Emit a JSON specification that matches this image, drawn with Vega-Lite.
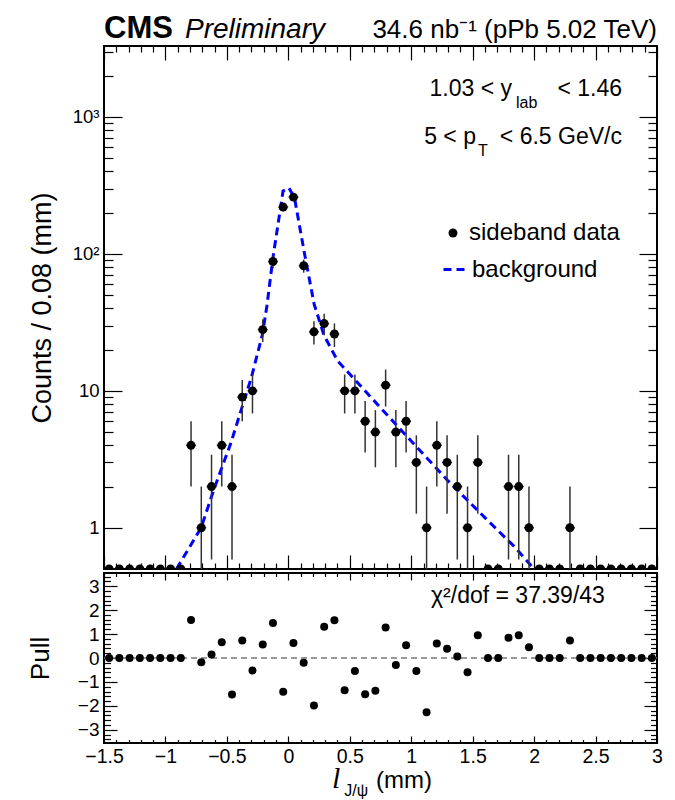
{
  "$schema": "https://vega.github.io/schema/vega-lite/v6.json",
  "autosize": {"type": "pad"},
  "padding": {"left": 26, "top": 11, "right": 5, "bottom": 2},
  "background": "white",
  "spacing": 0,
  "datasets": {
    "bins": [
      {"x": -1.4583, "n": 0, "pull": 0},
      {"x": -1.375, "n": 0, "pull": 0},
      {"x": -1.2917, "n": 0, "pull": 0},
      {"x": -1.2083, "n": 0, "pull": 0},
      {"x": -1.125, "n": 0, "pull": 0},
      {"x": -1.0417, "n": 0, "pull": 0},
      {"x": -0.9583, "n": 0, "pull": 0},
      {"x": -0.875, "n": 0, "pull": 0},
      {"x": -0.7917, "n": 4, "lo": 2, "hi": 6, "pull": 1.59},
      {"x": -0.7083, "n": 1, "lo": 0, "hi": 2, "pull": -0.18},
      {"x": -0.625, "n": 2, "lo": 0.586, "hi": 3.414, "pull": 0.15},
      {"x": -0.5417, "n": 4, "lo": 2, "hi": 6, "pull": 0.66},
      {"x": -0.4583, "n": 2, "lo": 0.586, "hi": 3.414, "pull": -1.52},
      {"x": -0.375, "n": 9, "lo": 6, "hi": 12, "pull": 0.73},
      {"x": -0.2917, "n": 10, "lo": 6.838, "hi": 13.162, "pull": -0.52},
      {"x": -0.2083, "n": 28, "lo": 22.708, "hi": 33.292, "pull": 0.56},
      {"x": -0.125, "n": 88, "lo": 78.619, "hi": 97.381, "pull": 1.46},
      {"x": -0.0417, "n": 220, "lo": 205.168, "hi": 234.832, "pull": -1.41},
      {"x": 0.0417, "n": 260, "lo": 243.875, "hi": 276.125, "pull": 0.63},
      {"x": 0.125, "n": 82, "lo": 72.945, "hi": 91.055, "pull": -0.2},
      {"x": 0.2083, "n": 27, "lo": 21.804, "hi": 32.196, "pull": -1.98},
      {"x": 0.2917, "n": 31, "lo": 25.432, "hi": 36.568, "pull": 1.31},
      {"x": 0.375, "n": 26, "lo": 20.901, "hi": 31.099, "pull": 1.58},
      {"x": 0.4583, "n": 10, "lo": 6.838, "hi": 13.162, "pull": -1.35},
      {"x": 0.5417, "n": 10, "lo": 6.838, "hi": 13.162, "pull": -0.54},
      {"x": 0.625, "n": 6, "lo": 3.551, "hi": 8.449, "pull": -1.51},
      {"x": 0.7083, "n": 5, "lo": 2.764, "hi": 7.236, "pull": -1.37},
      {"x": 0.7917, "n": 11, "lo": 7.683, "hi": 14.317, "pull": 1.27},
      {"x": 0.875, "n": 5, "lo": 2.764, "hi": 7.236, "pull": -0.29},
      {"x": 0.9583, "n": 6, "lo": 3.551, "hi": 8.449, "pull": 0.53},
      {"x": 1.0417, "n": 3, "lo": 1.268, "hi": 4.732, "pull": -0.54},
      {"x": 1.125, "n": 1, "lo": 0, "hi": 2, "pull": -2.27},
      {"x": 1.2083, "n": 4, "lo": 2, "hi": 6, "pull": 0.61},
      {"x": 1.2917, "n": 3, "lo": 1.268, "hi": 4.732, "pull": 0.39},
      {"x": 1.375, "n": 2, "lo": 0.586, "hi": 3.414, "pull": 0.06},
      {"x": 1.4583, "n": 1, "lo": 0, "hi": 2, "pull": -0.6},
      {"x": 1.5417, "n": 3, "lo": 1.268, "hi": 4.732, "pull": 0.95},
      {"x": 1.625, "n": 0, "pull": 0},
      {"x": 1.7083, "n": 0, "pull": 0},
      {"x": 1.7917, "n": 2, "lo": 0.586, "hi": 3.414, "pull": 0.85},
      {"x": 1.875, "n": 2, "lo": 0.586, "hi": 3.414, "pull": 0.95},
      {"x": 1.9583, "n": 1, "lo": 0, "hi": 2, "pull": 0.45},
      {"x": 2.0417, "n": 0, "pull": 0},
      {"x": 2.125, "n": 0, "pull": 0},
      {"x": 2.2083, "n": 0, "pull": 0},
      {"x": 2.2917, "n": 1, "lo": 0, "hi": 2, "pull": 0.73},
      {"x": 2.375, "n": 0, "pull": 0},
      {"x": 2.4583, "n": 0, "pull": 0},
      {"x": 2.5417, "n": 0, "pull": 0},
      {"x": 2.625, "n": 0, "pull": 0},
      {"x": 2.7083, "n": 0, "pull": 0},
      {"x": 2.7917, "n": 0, "pull": 0},
      {"x": 2.875, "n": 0, "pull": 0},
      {"x": 2.9583, "n": 0, "pull": 0}
    ],
    "curve": [
      {"x": -0.91, "y": 0.5},
      {"x": -0.71, "y": 1.0},
      {"x": -0.6, "y": 1.97},
      {"x": -0.47, "y": 4.1},
      {"x": -0.3, "y": 12.6},
      {"x": -0.21, "y": 26},
      {"x": -0.174, "y": 42},
      {"x": -0.125, "y": 94},
      {"x": -0.043, "y": 288},
      {"x": 0.005, "y": 304},
      {"x": 0.05, "y": 257},
      {"x": 0.133, "y": 99},
      {"x": 0.21, "y": 43},
      {"x": 0.29, "y": 25.5},
      {"x": 0.4, "y": 16.6},
      {"x": 0.57, "y": 11.3},
      {"x": 0.77, "y": 7.2},
      {"x": 1.0, "y": 4.3},
      {"x": 1.3, "y": 2.2},
      {"x": 1.57, "y": 1.26},
      {"x": 1.845, "y": 0.72},
      {"x": 2.0, "y": 0.5}
    ]
  },
  "config": {
    "font": "Liberation Sans",
    "view": {"stroke": "black", "strokeWidth": 2},
    "axis": {
      "domain": false, "grid": false, "tickColor": "black", "tickWidth": 1.2, "labelFlush": false,
      "labelColor": "black", "labelFont": "Liberation Sans", "titleFont": "Liberation Sans",
      "titleColor": "black", "titleFontWeight": "normal"
    },
    "legend": {"padding": 0, "labelFont": "Liberation Sans", "labelColor": "black", "labelFontSize": 24}
  },
  "resolve": {"scale": {"y": "independent", "color": "independent", "strokeDash": "independent"}},
  "vconcat": [
    {
      "width": 553,
      "height": 523,
      "resolve": {"scale": {"y": "independent"}, "axis": {"x": "independent", "y": "independent"}},
      "layer": [
        {
          "data": {"name": "curve"},
          "mark": {"type": "line", "color": "#0000ff", "strokeWidth": 3, "clip": true},
          "encoding": {
            "x": {"field": "x", "type": "quantitative",
              "scale": {"domain": [-1.5, 3], "nice": false, "zero": false},
              "axis": {"orient": "bottom", "values": [-1.5, -1, -0.5, 0, 0.5, 1, 1.5, 2, 2.5, 3], "tickSize": -14, "labels": false, "title": null}},
            "y": {"field": "y", "type": "quantitative",
              "scale": {"type": "log", "domain": [0.5, 3300], "nice": false},
              "axis": {"orient": "left", "values": [1, 10, 100, 1000], "tickSize": -18, "labelPadding": 23, "labelFontSize": 18.5,
                "labelExpr": "datum.value >= 1000 ? '10³' : datum.value >= 100 ? '10²' : datum.value >= 10 ? '10' : '1'",
                "title": "Counts / 0.08 (mm)", "titleFontSize": 27, "titlePadding": 16, "titleAnchor": "middle"}},
            "strokeDash": {"datum": "background", "type": "nominal",
              "scale": {"domain": ["background"], "range": [[8, 5]]},
              "legend": {"title": null, "orient": "none", "legendX": 338, "legendY": 210, "symbolType": "stroke",
                "symbolSize": 576, "symbolStrokeWidth": 3, "symbolStrokeColor": "#0000ff", "labelOffset": 3}}
          }
        },
        {
          "data": {"name": "bins"},
          "transform": [{"filter": "datum.n > 0"}],
          "mark": {"type": "rule", "color": "#333333", "strokeWidth": 1.5, "clip": true},
          "encoding": {
            "x": {"field": "x", "type": "quantitative",
              "axis": {"orient": "bottom", "values": [-1.4, -1.3, -1.2, -1.1, -0.9, -0.8, -0.7, -0.6, -0.4, -0.3, -0.2, -0.1, 0.1, 0.2, 0.3, 0.4, 0.6, 0.7, 0.8, 0.9, 1.1, 1.2, 1.3, 1.4, 1.6, 1.7, 1.8, 1.9, 2.1, 2.2, 2.3, 2.4, 2.6, 2.7, 2.8, 2.9], "tickSize": -6, "labels": false, "title": null}},
            "y": {"field": "lo", "type": "quantitative",
              "scale": {"type": "log", "domain": [0.5, 3300], "nice": false, "clamp": true},
              "axis": {"orient": "left", "values": [2, 3, 4, 5, 6, 7, 8, 9, 20, 30, 40, 50, 60, 70, 80, 90, 200, 300, 400, 500, 600, 700, 800, 900, 2000, 3000], "tickSize": -9, "labels": false, "title": null}},
            "y2": {"field": "hi"}
          }
        },
        {
          "data": {"name": "bins"},
          "mark": {"type": "tick", "orient": "horizontal", "color": "black", "size": 10, "thickness": 1.5, "clip": true},
          "encoding": {
            "x": {"field": "x", "type": "quantitative",
              "axis": {"orient": "top", "values": [-1.5, -1, -0.5, 0, 0.5, 1, 1.5, 2, 2.5, 3], "tickSize": -14, "labels": false, "title": null}},
            "y": {"field": "n", "type": "quantitative",
              "scale": {"type": "log", "domain": [0.5, 3300], "nice": false, "clamp": true},
              "axis": {"orient": "right", "values": [1, 10, 100, 1000], "tickSize": -18, "labels": false, "title": null}}
          }
        },
        {
          "data": {"name": "bins"},
          "mark": {"type": "point", "filled": true, "size": 80, "opacity": 1, "clip": true},
          "encoding": {
            "x": {"field": "x", "type": "quantitative",
              "axis": {"orient": "top", "values": [-1.4, -1.3, -1.2, -1.1, -0.9, -0.8, -0.7, -0.6, -0.4, -0.3, -0.2, -0.1, 0.1, 0.2, 0.3, 0.4, 0.6, 0.7, 0.8, 0.9, 1.1, 1.2, 1.3, 1.4, 1.6, 1.7, 1.8, 1.9, 2.1, 2.2, 2.3, 2.4, 2.6, 2.7, 2.8, 2.9], "tickSize": -6, "labels": false, "title": null}},
            "y": {"field": "n", "type": "quantitative",
              "scale": {"type": "log", "domain": [0.5, 3300], "nice": false, "clamp": true},
              "axis": {"orient": "right", "values": [2, 3, 4, 5, 6, 7, 8, 9, 20, 30, 40, 50, 60, 70, 80, 90, 200, 300, 400, 500, 600, 700, 800, 900, 2000, 3000], "tickSize": -9, "labels": false, "title": null}},
            "color": {"datum": "sideband data", "type": "nominal",
              "scale": {"domain": ["sideband data"], "range": ["black"]},
              "legend": {"title": null, "orient": "none", "legendX": 337, "legendY": 175, "symbolType": "circle", "symbolSize": 80, "labelOffset": 4}}
          }
        },
        {
          "data": {"values": [{}]},
          "mark": {"type": "text", "text": "CMS", "align": "left", "baseline": "alphabetic", "fontSize": 31, "fontWeight": "bold", "color": "black"},
          "encoding": {"x": {"datum": -1.5, "type": "quantitative", "axis": null}, "y": {"datum": 3790, "type": "quantitative", "scale": {"type": "log", "domain": [0.5, 3300], "nice": false}, "axis": null}}
        },
        {
          "data": {"values": [{}]},
          "mark": {"type": "text", "text": "Preliminary", "align": "left", "baseline": "alphabetic", "fontSize": 28, "fontStyle": "italic", "color": "black"},
          "encoding": {"x": {"datum": -0.841, "type": "quantitative", "axis": null}, "y": {"datum": 3790, "type": "quantitative", "scale": {"type": "log", "domain": [0.5, 3300], "nice": false}, "axis": null}}
        },
        {
          "data": {"values": [{}]},
          "mark": {"type": "text", "text": "34.6 nb⁻¹ (pPb 5.02 TeV)", "align": "right", "baseline": "alphabetic", "fontSize": 26, "color": "black"},
          "encoding": {"x": {"datum": 3.0, "type": "quantitative", "axis": null}, "y": {"datum": 3790, "type": "quantitative", "scale": {"type": "log", "domain": [0.5, 3300], "nice": false}, "axis": null}}
        },
        {
          "data": {"values": [{}]},
          "mark": {"type": "text", "text": "1.03 < y", "align": "right", "baseline": "alphabetic", "fontSize": 23, "color": "black"},
          "encoding": {"x": {"datum": 1.82, "type": "quantitative", "axis": null}, "y": {"datum": 1423, "type": "quantitative", "scale": {"type": "log", "domain": [0.5, 3300], "nice": false}, "axis": null}}
        },
        {
          "data": {"values": [{}]},
          "mark": {"type": "text", "text": "lab", "align": "left", "baseline": "alphabetic", "fontSize": 16, "color": "black"},
          "encoding": {"x": {"datum": 1.852, "type": "quantitative", "axis": null}, "y": {"datum": 1169, "type": "quantitative", "scale": {"type": "log", "domain": [0.5, 3300], "nice": false}, "axis": null}}
        },
        {
          "data": {"values": [{}]},
          "mark": {"type": "text", "text": "< 1.46", "align": "right", "baseline": "alphabetic", "fontSize": 23, "color": "black"},
          "encoding": {"x": {"datum": 2.715, "type": "quantitative", "axis": null}, "y": {"datum": 1423, "type": "quantitative", "scale": {"type": "log", "domain": [0.5, 3300], "nice": false}, "axis": null}}
        },
        {
          "data": {"values": [{}]},
          "mark": {"type": "text", "text": "5 < p", "align": "right", "baseline": "alphabetic", "fontSize": 23, "color": "black"},
          "encoding": {"x": {"datum": 1.527, "type": "quantitative", "axis": null}, "y": {"datum": 638, "type": "quantitative", "scale": {"type": "log", "domain": [0.5, 3300], "nice": false}, "axis": null}}
        },
        {
          "data": {"values": [{}]},
          "mark": {"type": "text", "text": "T", "align": "left", "baseline": "alphabetic", "fontSize": 16, "color": "black"},
          "encoding": {"x": {"datum": 1.543, "type": "quantitative", "axis": null}, "y": {"datum": 519, "type": "quantitative", "scale": {"type": "log", "domain": [0.5, 3300], "nice": false}, "axis": null}}
        },
        {
          "data": {"values": [{}]},
          "mark": {"type": "text", "text": "< 6.5 GeV/c", "align": "right", "baseline": "alphabetic", "fontSize": 23, "color": "black"},
          "encoding": {"x": {"datum": 2.715, "type": "quantitative", "axis": null}, "y": {"datum": 638, "type": "quantitative", "scale": {"type": "log", "domain": [0.5, 3300], "nice": false}, "axis": null}}
        }
      ]
    },
    {
      "width": 553,
      "height": 170,
      "resolve": {"axis": {"x": "independent", "y": "independent"}},
      "layer": [
        {
          "data": {"values": [{}]},
          "mark": {"type": "rule", "color": "#777777", "strokeDash": [6, 4], "strokeWidth": 1.5},
          "encoding": {"y": {"datum": 0, "type": "quantitative", "scale": {"domain": [-3.55, 3.55], "nice": false, "zero": false}, "axis": null}}
        },
        {
          "data": {"name": "bins"},
          "mark": {"type": "point", "filled": true, "size": 64, "color": "black", "opacity": 1},
          "encoding": {
            "x": {"field": "x", "type": "quantitative",
              "scale": {"domain": [-1.5, 3], "nice": false, "zero": false},
              "axis": {"orient": "bottom", "values": [-1.5, -1, -0.5, 0, 0.5, 1, 1.5, 2, 2.5, 3], "format": "~g", "tickSize": -7, "labelPadding": 11.5, "labelFontSize": 19.5, "title": null}},
            "y": {"field": "pull", "type": "quantitative",
              "scale": {"domain": [-3.55, 3.55], "nice": false, "zero": false},
              "axis": {"orient": "left", "values": [-3, -2, -1, 0, 1, 2, 3], "tickSize": -13, "labelPadding": 18, "labelFontSize": 19,
                "title": "Pull", "titleFontSize": 26, "titlePadding": 24}}
          }
        },
        {
          "data": {"name": "bins"},
          "mark": {"type": "point", "opacity": 0},
          "encoding": {
            "x": {"field": "x", "type": "quantitative",
              "axis": {"orient": "bottom", "values": [-1.4, -1.3, -1.2, -1.1, -0.9, -0.8, -0.7, -0.6, -0.4, -0.3, -0.2, -0.1, 0.1, 0.2, 0.3, 0.4, 0.6, 0.7, 0.8, 0.9, 1.1, 1.2, 1.3, 1.4, 1.6, 1.7, 1.8, 1.9, 2.1, 2.2, 2.3, 2.4, 2.6, 2.7, 2.8, 2.9], "tickSize": -3.5, "labels": false, "title": null}},
            "y": {"field": "pull", "type": "quantitative",
              "axis": {"orient": "left", "values": [-3.4, -3.2, -2.8, -2.6, -2.4, -2.2, -1.8, -1.6, -1.4, -1.2, -0.8, -0.6, -0.4, -0.2, 0.2, 0.4, 0.6, 0.8, 1.2, 1.4, 1.6, 1.8, 2.2, 2.4, 2.6, 2.8, 3.2, 3.4], "tickSize": -6.5, "labels": false, "title": null}}
          }
        },
        {
          "data": {"name": "bins"},
          "mark": {"type": "point", "opacity": 0},
          "encoding": {
            "x": {"field": "x", "type": "quantitative",
              "axis": {"orient": "top", "values": [-1.5, -1, -0.5, 0, 0.5, 1, 1.5, 2, 2.5, 3], "tickSize": -7, "labels": false, "title": null}},
            "y": {"field": "pull", "type": "quantitative",
              "axis": {"orient": "right", "values": [-3, -2, -1, 0, 1, 2, 3], "tickSize": -13, "labels": false, "title": null}}
          }
        },
        {
          "data": {"name": "bins"},
          "mark": {"type": "point", "opacity": 0},
          "encoding": {
            "x": {"field": "x", "type": "quantitative",
              "axis": {"orient": "top", "values": [-1.4, -1.3, -1.2, -1.1, -0.9, -0.8, -0.7, -0.6, -0.4, -0.3, -0.2, -0.1, 0.1, 0.2, 0.3, 0.4, 0.6, 0.7, 0.8, 0.9, 1.1, 1.2, 1.3, 1.4, 1.6, 1.7, 1.8, 1.9, 2.1, 2.2, 2.3, 2.4, 2.6, 2.7, 2.8, 2.9], "tickSize": -3.5, "labels": false, "title": null}},
            "y": {"field": "pull", "type": "quantitative",
              "axis": {"orient": "right", "values": [-3.4, -3.2, -2.8, -2.6, -2.4, -2.2, -1.8, -1.6, -1.4, -1.2, -0.8, -0.6, -0.4, -0.2, 0.2, 0.4, 0.6, 0.8, 1.2, 1.4, 1.6, 1.8, 2.2, 2.4, 2.6, 2.8, 3.2, 3.4], "tickSize": -6.5, "labels": false, "title": null}}
          }
        },
        {
          "data": {"values": [{}]},
          "mark": {"type": "text", "text": "χ²/dof = 37.39/43", "align": "right", "baseline": "alphabetic", "fontSize": 23, "color": "black"},
          "encoding": {"x": {"datum": 2.576, "type": "quantitative", "axis": null}, "y": {"datum": 2.285, "type": "quantitative", "axis": null}}
        },
        {
          "data": {"values": [{}]},
          "mark": {"type": "text", "text": "l", "align": "left", "baseline": "alphabetic", "fontSize": 30, "font": "Liberation Serif", "fontStyle": "italic", "color": "black"},
          "encoding": {"x": {"datum": 0.355, "type": "quantitative", "axis": null}, "y": {"datum": -5.45, "type": "quantitative", "axis": null}}
        },
        {
          "data": {"values": [{}]},
          "mark": {"type": "text", "text": "J/ψ", "align": "left", "baseline": "alphabetic", "fontSize": 16, "color": "black"},
          "encoding": {"x": {"datum": 0.455, "type": "quantitative", "axis": null}, "y": {"datum": -5.75, "type": "quantitative", "axis": null}}
        },
        {
          "data": {"values": [{}]},
          "mark": {"type": "text", "text": "(mm)", "align": "left", "baseline": "alphabetic", "fontSize": 24, "color": "black"},
          "encoding": {"x": {"datum": 0.713, "type": "quantitative", "axis": null}, "y": {"datum": -5.45, "type": "quantitative", "axis": null}}
        }
      ]
    }
  ]
}
